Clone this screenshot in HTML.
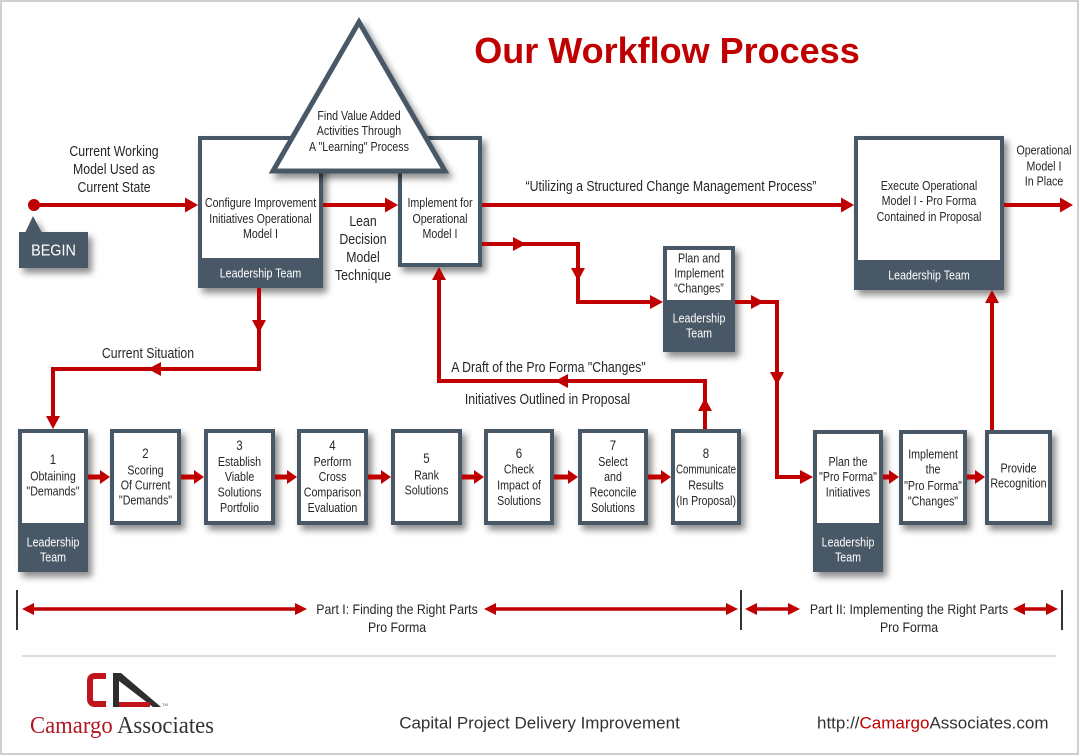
<!DOCTYPE html>
<html><head><meta charset="utf-8"><style>
html,body{margin:0;padding:0;background:#fff;}
svg{display:block;}
.t{font-family:"Liberation Sans",Arial,sans-serif;text-anchor:middle;fill:#262626;transform-box:fill-box;transform-origin:center;transform:scaleX(.82);}
.s13{font-size:13px;}
.s14{font-size:14px;}
.s15{font-size:15px;}
.w{fill:#fff;}
.p{transform:scaleX(.88);}
.ft{font-family:"Liberation Sans",Arial,sans-serif;font-size:17px;fill:#333;}
</style></head><body>
<svg width="1080" height="756" viewBox="0 0 1080 756" xmlns="http://www.w3.org/2000/svg">
<defs>
<filter id="sh" x="-30%" y="-30%" width="170%" height="170%">
<feDropShadow dx="4" dy="5" stdDeviation="3.5" flood-color="#000" flood-opacity="0.45"/>
</filter>
</defs>
<rect x="1" y="1" width="1077" height="753" fill="#fff" stroke="#cfcfcf" stroke-width="2"/>

<!-- Title -->
<text x="667" y="63" text-anchor="middle" font-family="Liberation Sans, Arial, sans-serif" font-weight="bold" font-size="36" fill="#c00000">Our Workflow Process</text>

<!-- Box A -->
<g filter="url(#sh)">
<rect x="198" y="136" width="125" height="152" fill="#4a5866"/>
</g>
<rect x="202" y="140" width="117" height="118" fill="#fff"/>
<!-- Box B -->
<g filter="url(#sh)">
<rect x="398" y="136" width="84" height="131" fill="#4a5866"/>
</g>
<rect x="402" y="140" width="76" height="123" fill="#fff"/>

<!-- Triangle -->
<g filter="url(#sh)">
<polygon points="359,22 273,171 445,171" fill="#fff" stroke="#4a5866" stroke-width="5" stroke-linejoin="miter"/>
</g>
<text class="t s13" x="359" y="120">Find Value Added</text>
<text class="t s13" x="359" y="135">Activities Through</text>
<text class="t s13" x="359" y="151">A "Learning" Process</text>

<text class="t s13" x="260.5" y="207">Configure Improvement</text>
<text class="t s13" x="260.5" y="223">Initiatives Operational</text>
<text class="t s13" x="260.5" y="238">Model I</text>
<text class="t s13 w" x="260.5" y="277.5">Leadership Team</text>

<text class="t s13" x="440" y="207">Implement for</text>
<text class="t s13" x="440" y="223">Operational</text>
<text class="t s13" x="440" y="238">Model I</text>

<!-- Execute box -->
<g filter="url(#sh)">
<rect x="854" y="136" width="150" height="154" fill="#4a5866"/>
</g>
<rect x="858" y="140" width="142" height="120" fill="#fff"/>
<text class="t s13" x="929" y="190">Execute Operational</text>
<text class="t s13" x="929" y="205">Model I - Pro Forma</text>
<text class="t s13" x="929" y="221">Contained in Proposal</text>
<text class="t s13 w" x="929" y="279.5">Leadership Team</text>

<!-- Plan and Implement box -->
<g filter="url(#sh)">
<rect x="663" y="246" width="72" height="106" fill="#4a5866"/>
</g>
<rect x="667" y="250" width="64" height="50" fill="#fff"/>
<text class="t s13" x="699" y="262.5">Plan and</text>
<text class="t s13" x="699" y="277.5">Implement</text>
<text class="t s13" x="699" y="292.5">“Changes”</text>
<text class="t s13 w" x="699" y="322.5">Leadership</text>
<text class="t s13 w" x="699" y="337.5">Team</text>

<!-- BEGIN -->
<g filter="url(#sh)">
<polygon points="25,233 33,216 42,233" fill="#4a5866"/>
<rect x="19" y="232" width="69" height="36" fill="#4a5866"/>
</g>
<text x="53.5" y="255.5" text-anchor="middle" font-family="Liberation Sans, Arial, sans-serif" font-size="16" fill="#fff" style="transform-box:fill-box;transform-origin:center;transform:scaleX(.9)">BEGIN</text>

<!-- Labels -->
<text class="t s15" x="114" y="156">Current Working</text>
<text class="t s15" x="114" y="174">Model Used as</text>
<text class="t s15" x="114" y="192">Current State</text>

<text class="t s15" x="363" y="226">Lean</text>
<text class="t s15" x="363" y="244">Decision</text>
<text class="t s15" x="363" y="262">Model</text>
<text class="t s15" x="363" y="280">Technique</text>

<text class="t s15" x="671" y="191">“Utilizing a Structured Change Management Process”</text>

<text class="t s13" x="1044" y="154.5">Operational</text>
<text class="t s13" x="1044" y="170.5">Model I</text>
<text class="t s13" x="1044" y="185.5">In Place</text>

<text class="t s15" x="148" y="358">Current Situation</text>
<text class="t s15" x="548.5" y="372">A Draft of the Pro Forma "Changes"</text>
<text class="t s15" x="547.5" y="404">Initiatives Outlined in Proposal</text>

<!-- Row boxes -->
<g filter="url(#sh)" fill="#4a5866">
<rect x="18" y="429" width="70" height="143"/>
<rect x="110" y="429" width="71" height="96"/>
<rect x="204" y="429" width="71" height="96"/>
<rect x="297" y="429" width="71" height="96"/>
<rect x="391" y="429" width="71" height="96"/>
<rect x="484" y="429" width="70" height="96"/>
<rect x="578" y="429" width="70" height="96"/>
<rect x="671" y="429" width="70" height="96"/>
<rect x="813" y="430" width="70" height="142"/>
<rect x="899" y="430" width="68" height="95"/>
<rect x="985" y="430" width="67" height="95"/>
</g>
<g fill="#fff">
<rect x="22" y="433" width="62" height="90"/>
<rect x="114" y="433" width="63" height="88"/>
<rect x="208" y="433" width="63" height="88"/>
<rect x="301" y="433" width="63" height="88"/>
<rect x="395" y="433" width="63" height="88"/>
<rect x="488" y="433" width="62" height="88"/>
<rect x="582" y="433" width="62" height="88"/>
<rect x="675" y="433" width="62" height="88"/>
<rect x="817" y="434" width="62" height="89"/>
<rect x="903" y="434" width="60" height="87"/>
<rect x="989" y="434" width="59" height="87"/>
</g>

<text class="t s14" x="53" y="464">1</text>
<text class="t s13" x="53" y="480.5">Obtaining</text>
<text class="t s13" x="53" y="495.5">"Demands"</text>
<text class="t s13 w" x="53" y="546.5">Leadership</text>
<text class="t s13 w" x="53" y="561.5">Team</text>

<text class="t s14" x="145.5" y="458">2</text>
<text class="t s13" x="145.5" y="474.5">Scoring</text>
<text class="t s13" x="145.5" y="489.5">Of Current</text>
<text class="t s13" x="145.5" y="504.5">"Demands"</text>

<text class="t s14" x="239.5" y="450">3</text>
<text class="t s13" x="239.5" y="466">Establish</text>
<text class="t s13" x="239.5" y="481">Viable</text>
<text class="t s13" x="239.5" y="496.5">Solutions</text>
<text class="t s13" x="239.5" y="512">Portfolio</text>

<text class="t s14" x="332.5" y="450">4</text>
<text class="t s13" x="332.5" y="466">Perform</text>
<text class="t s13" x="332.5" y="481">Cross</text>
<text class="t s13" x="332.5" y="496.5">Comparison</text>
<text class="t s13" x="332.5" y="512">Evaluation</text>

<text class="t s14" x="426.5" y="463">5</text>
<text class="t s13" x="426.5" y="479.5">Rank</text>
<text class="t s13" x="426.5" y="494.5">Solutions</text>

<text class="t s14" x="519" y="458">6</text>
<text class="t s13" x="519" y="473.5">Check</text>
<text class="t s13" x="519" y="489.5">Impact of</text>
<text class="t s13" x="519" y="505">Solutions</text>

<text class="t s14" x="613" y="450">7</text>
<text class="t s13" x="613" y="466">Select</text>
<text class="t s13" x="613" y="481">and</text>
<text class="t s13" x="613" y="496.5">Reconcile</text>
<text class="t s13" x="613" y="512">Solutions</text>

<text class="t s14" x="706" y="458">8</text>
<text x="706" y="473.5" text-anchor="middle" font-family="Liberation Sans, Arial, sans-serif" font-size="13" fill="#262626" textLength="60" lengthAdjust="spacingAndGlyphs">Communicate</text>
<text class="t s13" x="706" y="489.5">Results</text>
<text x="706" y="505" text-anchor="middle" font-family="Liberation Sans, Arial, sans-serif" font-size="13" fill="#262626" textLength="60" lengthAdjust="spacingAndGlyphs">(In Proposal)</text>

<text class="t s13" x="848" y="466">Plan the</text>
<text class="t s13" x="848" y="481">"Pro Forma"</text>
<text class="t s13" x="848" y="496.5">Initiatives</text>
<text class="t s13 w" x="848" y="546.5">Leadership</text>
<text class="t s13 w" x="848" y="561.5">Team</text>

<text class="t s13" x="933" y="458.5">Implement</text>
<text class="t s13" x="933" y="473.5">the</text>
<text class="t s13" x="933" y="490">"Pro Forma"</text>
<text class="t s13" x="933" y="505.5">"Changes"</text>

<text class="t s13" x="1018.5" y="472.5">Provide</text>
<text class="t s13" x="1018.5" y="487.5">Recognition</text>

<!-- Connectors -->
<g stroke="#c00000" stroke-width="4" fill="none">
<line x1="34" y1="205" x2="187" y2="205"/>
<line x1="323" y1="205" x2="387" y2="205"/>
<line x1="482" y1="205" x2="843" y2="205"/>
<line x1="1004" y1="205" x2="1062" y2="205"/>
<polyline points="482,244 578,244 578,302 652,302"/>
<polyline points="735,302 777,302 777,477 802,477"/>
<line x1="992" y1="430" x2="992" y2="301"/>
<polyline points="259,288 259,369 53,369 53,418"/>
<polyline points="705,429 705,381 439,381 439,278"/>
</g>
<circle cx="34" cy="205" r="6" fill="#c00000"/>
<g fill="#c00000">
<polygon points="198,205 185,197.5 185,212.5"/>
<polygon points="398,205 385,197.5 385,212.5"/>
<polygon points="854,205 841,197.5 841,212.5"/>
<polygon points="1073,205 1060,197.5 1060,212.5"/>
<polygon points="526,244 513,237 513,251"/>
<polygon points="578,281 571,268 585,268"/>
<polygon points="663,302 650,295 650,309"/>
<polygon points="764,302 751,295 751,309"/>
<polygon points="777,385 770,372 784,372"/>
<polygon points="813,477 800,470 800,484"/>
<polygon points="992,290 985,303 999,303"/>
<polygon points="259,333 252,320 266,320"/>
<polygon points="148,369 161,362 161,376"/>
<polygon points="53,429 46,416 60,416"/>
<polygon points="705,398 698,411 712,411"/>
<polygon points="555,381 568,374 568,388"/>
<polygon points="439,267 432,280 446,280"/>
</g>

<!-- Row short arrows -->
<g stroke="#c00000" stroke-width="5">
<line x1="88" y1="477" x2="101" y2="477"/>
<line x1="181" y1="477" x2="195" y2="477"/>
<line x1="275" y1="477" x2="288" y2="477"/>
<line x1="368" y1="477" x2="382" y2="477"/>
<line x1="462" y1="477" x2="475" y2="477"/>
<line x1="554" y1="477" x2="569" y2="477"/>
<line x1="648" y1="477" x2="662" y2="477"/>
<line x1="883" y1="477" x2="890" y2="477"/>
<line x1="967" y1="477" x2="976" y2="477"/>
</g>
<g fill="#c00000">
<polygon points="110,477 100,470 100,484"/>
<polygon points="204,477 194,470 194,484"/>
<polygon points="297,477 287,470 287,484"/>
<polygon points="391,477 381,470 381,484"/>
<polygon points="484,477 474,470 474,484"/>
<polygon points="578,477 568,470 568,484"/>
<polygon points="671,477 661,470 661,484"/>
<polygon points="899,477 889,470 889,484"/>
<polygon points="985,477 975,470 975,484"/>
</g>

<!-- Bottom phase arrows -->
<g stroke="#333" stroke-width="2">
<line x1="17" y1="590" x2="17" y2="630"/>
<line x1="741" y1="590" x2="741" y2="630"/>
<line x1="1062" y1="590" x2="1062" y2="630"/>
</g>
<g stroke="#c00000" stroke-width="3.5">
<line x1="32" y1="609" x2="297" y2="609"/>
<line x1="494" y1="609" x2="728" y2="609"/>
<line x1="755" y1="609" x2="790" y2="609"/>
<line x1="1023" y1="609" x2="1048" y2="609"/>
</g>
<g fill="#c00000">
<polygon points="22,609 34,603 34,615"/>
<polygon points="307,609 295,603 295,615"/>
<polygon points="484,609 496,603 496,615"/>
<polygon points="738,609 726,603 726,615"/>
<polygon points="745,609 757,603 757,615"/>
<polygon points="800,609 788,603 788,615"/>
<polygon points="1013,609 1025,603 1025,615"/>
<polygon points="1058,609 1046,603 1046,615"/>
</g>
<text class="t s14 p" x="397" y="614">Part I: Finding the Right Parts</text>
<text class="t s14 p" x="397" y="632">Pro Forma</text>
<text class="t s14 p" x="909" y="614">Part II: Implementing the Right Parts</text>
<text class="t s14 p" x="909" y="632">Pro Forma</text>

<!-- Separator -->
<line x1="22" y1="656" x2="1056" y2="656" stroke="#d0d0d0" stroke-width="1.5"/>

<!-- Logo -->
<path d="M106,676 H95 Q90,676 90,681 V699 Q90,704 95,704 H106" fill="none" stroke="#c0141e" stroke-width="6"/>
<polygon points="113,673 121,673 161,707 153,707 119,681 119,707 113,707" fill="#2e2e2e"/>
<rect x="119" y="702" width="31" height="5" fill="#c0141e"/>
<text x="162" y="706" font-family="Liberation Sans, Arial, sans-serif" font-size="4" fill="#555">TM</text>
<text x="30" y="733" font-family="Liberation Serif, Times New Roman, serif" font-size="24" textLength="184" lengthAdjust="spacingAndGlyphs"><tspan fill="#b01822">Camargo</tspan><tspan fill="#333"> Associates</tspan></text>

<!-- Footer texts -->
<text class="ft" x="539.5" y="728.5" text-anchor="middle">Capital Project Delivery Improvement</text>
<text class="ft" x="817" y="728.5">http://<tspan fill="#c00000">Camargo</tspan>Associates.com</text>
</svg>
</body></html>
